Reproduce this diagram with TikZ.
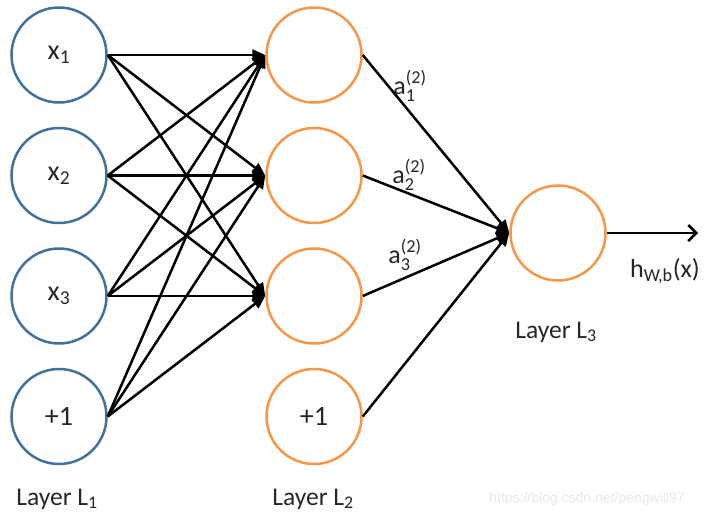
\documentclass[tikz,border=0pt]{standalone}
\usepackage{fontspec}
\usepackage{amsmath}
\setmainfont{Carlito}
\newfontfamily\wmfont{Liberation Sans}
\usetikzlibrary{arrows.meta}
\definecolor{nblue}{HTML}{41719C}
\definecolor{norange}{HTML}{F79646}
\definecolor{wmgray}{HTML}{E8E8E8}
\definecolor{tgray}{HTML}{262626}
\tikzset{
  neuron/.style={circle, minimum size=95pt, inner sep=0pt, line width=2.5pt},
  inneuron/.style={neuron, draw=nblue},
  hidneuron/.style={neuron, draw=norange},
  nlabel/.style={font=\fontsize{28}{33}\selectfont, text=tgray},
  llabel/.style={font=\fontsize{25.5}{30}\selectfont, text=tgray},
  alabel/.style={font=\fontsize{26}{30}\selectfont, text=tgray},
  conn/.style={line width=2.5pt, -{Triangle[length=13pt,width=11pt]}},
  outconn/.style={line width=2.5pt, -{Straight Barb[length=8pt,width=16pt,line width=2.5pt]}}
}
\begin{document}
\begin{tikzpicture}[x=1pt,y=-1pt]
\useasboundingbox (0,0) rectangle (708,517);
% input layer
\node[inneuron, nlabel] (i1) at (59,55) {x$_{\text{1}}$};
\node[inneuron, nlabel] (i2) at (59,175.5) {x$_{\text{2}}$};
\node[inneuron, nlabel] (i3) at (59,296) {x$_{\text{3}}$};
\node[inneuron, nlabel] (i4) at (59,416.5) {+1};
% hidden layer
\node[hidneuron] (h1) at (314,55) {};
\node[hidneuron] (h2) at (314,175.5) {};
\node[hidneuron] (h3) at (314,296) {};
\node[hidneuron, nlabel] (h4) at (314,416.5) {+1};
% output layer
\node[hidneuron] (o) at (558,233) {};
\coordinate (out) at (698,233);
% connections input -> hidden
\foreach \i in {1,2,3,4}{
  \foreach \j in {1,2,3}{
    \draw[conn] (i\i.east) -- (h\j.west);
  }
}
% connections hidden -> output
\foreach \j in {1,2,3,4}{
  \draw[conn] (h\j.east) -- (o.west);
}
\draw[outconn] (o.east) -- (out);
% labels
\node[alabel] (a1) at (410,86) {a$^{\text{(2)}}_{\text{1}}$};
\node[alabel] (a2) at (409,175) {a$^{\text{(2)}}_{\text{2}}$};
\node[alabel] (a3) at (405,255) {a$^{\text{(2)}}_{\text{3}}$};
\node[alabel] (hx) at (665,271) {h$_{\text{W,b}}$(x)};
\node[llabel] (l1) at (57,499) {Layer L$_{\text{1}}$};
\node[llabel] (l2) at (313,499) {Layer L$_{\text{2}}$};
\node[llabel] (l3) at (556,332) {Layer L$_{\text{3}}$};
\node[font=\wmfont\fontsize{14}{16}\selectfont, text=wmgray] (wm) at (587,499) {https://blog.csdn.net/pengwill97};
\end{tikzpicture}
\end{document}
